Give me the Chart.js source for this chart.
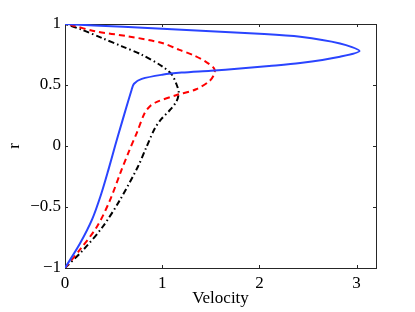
<!DOCTYPE html>
<html>
<head>
<meta charset="utf-8">
<script src="https://cdn.jsdelivr.net/npm/chart.js@4"></script>
<style>
  html, body { margin: 0; padding: 0; background: #fff; }
  canvas { display: block; }
</style>
</head>
<body>
<canvas id="myChart" width="415" height="312"></canvas>
<script>
// Velocity profiles (x = velocity, y = r)
const blueVel = [0, 0.154, 0.28, 0.37, 0.445, 0.515, 0.588, 0.685, 0.71, 0.79, 1.0, 1.2, 1.5, 1.8, 2.1, 2.42, 2.83, 3.03, 2.83, 2.42, 2.0, 1.2, 0.6, 0];
const blueR   = [-1, -0.80, -0.60, -0.40, -0.20, 0, 0.20, 0.459, 0.51, 0.55, 0.584, 0.602, 0.617, 0.635, 0.655, 0.68, 0.732, 0.778, 0.84, 0.895, 0.92, 0.953, 0.977, 1];

const redVel = [0, 0.154, 0.33, 0.46, 0.57, 0.66, 0.74, 0.82, 0.88, 0.94, 1.15, 1.35, 1.49, 1.54, 1.53, 1.45, 1.32, 1.17, 1.0, 0.65, 0.31, 0.07, 0];
const redR   = [-1, -0.85, -0.66, -0.45, -0.22, -0.04, 0.11, 0.27, 0.33, 0.36, 0.418, 0.465, 0.535, 0.60, 0.64, 0.69, 0.745, 0.79, 0.844, 0.899, 0.94, 0.99, 1];

const blackVel = [0, 0.19, 0.39, 0.565, 0.75, 0.84, 0.925, 0.99, 1.08, 1.15, 1.17, 1.15, 1.10, 1.0, 0.79, 0.586, 0.38, 0.175, 0];
const blackR   = [-1, -0.85, -0.66, -0.443, -0.17, -0.005, 0.145, 0.22, 0.295, 0.37, 0.44, 0.5, 0.584, 0.653, 0.748, 0.817, 0.885, 0.953, 1];

const xTicks = [0, 1, 2, 3];
const yTicks = [-1, -0.5, 0, 0.5, 1];

const toPoints = (xs, ys) => xs.map((x, i) => ({ x: x, y: ys[i] }));

// MATLAB-like box with inward ticks on all four sides
const boxPlugin = {
    id: 'box',
    beforeDatasetsDraw(chart) {
        const { ctx, chartArea: a, scales } = chart;
        ctx.save();
        ctx.strokeStyle = '#262626';
        ctx.lineWidth = 1;
        ctx.strokeRect(a.left + 0.5, a.top + 0.5, a.right - a.left, a.bottom - a.top);
        ctx.beginPath();
        xTicks.forEach(v => {
            const px = Math.round(scales.x.getPixelForValue(v)) + 0.5;
            ctx.moveTo(px, a.bottom); ctx.lineTo(px, a.bottom - 3);
            ctx.moveTo(px, a.top); ctx.lineTo(px, a.top + 3);
        });
        yTicks.forEach(v => {
            const py = Math.round(scales.y.getPixelForValue(v)) + 0.5;
            ctx.moveTo(a.left, py); ctx.lineTo(a.left + 3, py);
            ctx.moveTo(a.right, py); ctx.lineTo(a.right - 3, py);
        });
        ctx.stroke();
        ctx.restore();
    }
};

const font = { family: '"Liberation Serif", "Times New Roman", serif', size: 17 };

const lineStyle = { showLine: true, borderWidth: 2, tension: 0.3, pointRadius: 0 };

new Chart(document.getElementById('myChart').getContext('2d'), {
    type: 'scatter',
    data: {
        datasets: [
            { ...lineStyle, data: toPoints(blueVel, blueR), borderColor: '#2a44ff' },
            { ...lineStyle, data: toPoints(redVel, redR), borderColor: '#ff0000', borderDash: [6, 4] },
            { ...lineStyle, data: toPoints(blackVel, blackR), borderColor: '#000000', borderDash: [6, 3, 1.5, 3] }
        ]
    },
    options: {
        responsive: false,
        animation: false,
        layout: { padding: { top: 24, right: 39, left: 0, bottom: 0 } },
        plugins: { legend: { display: false }, tooltip: { enabled: false } },
        scales: {
            x: {
                type: 'linear',
                min: 0,
                max: 3.2,
                afterFit: s => { s.height = 44; },
                afterBuildTicks: s => { s.ticks = xTicks.map(v => ({ value: v })); },
                border: { display: false },
                grid: { display: false, drawTicks: false },
                ticks: { color: '#000', font: font, padding: 5, maxRotation: 0, includeBounds: false },
                title: { display: true, text: 'Velocity', color: '#000', font: font, padding: { top: 0, bottom: 3 } }
            },
            y: {
                type: 'linear',
                min: -1,
                max: 1,
                afterFit: s => { s.width = 65; },
                afterBuildTicks: s => { s.ticks = yTicks.map(v => ({ value: v })); },
                border: { display: false },
                grid: { display: false, drawTicks: false },
                ticks: {
                    color: '#000',
                    font: font,
                    padding: 4,
                    callback: v => String(v).replace('-', '\u2212')
                },
                title: { display: true, text: 'r', color: '#000', font: font, padding: { top: 4, bottom: 0 } }
            }
        }
    },
    plugins: [boxPlugin]
});
</script>
</body>
</html>
